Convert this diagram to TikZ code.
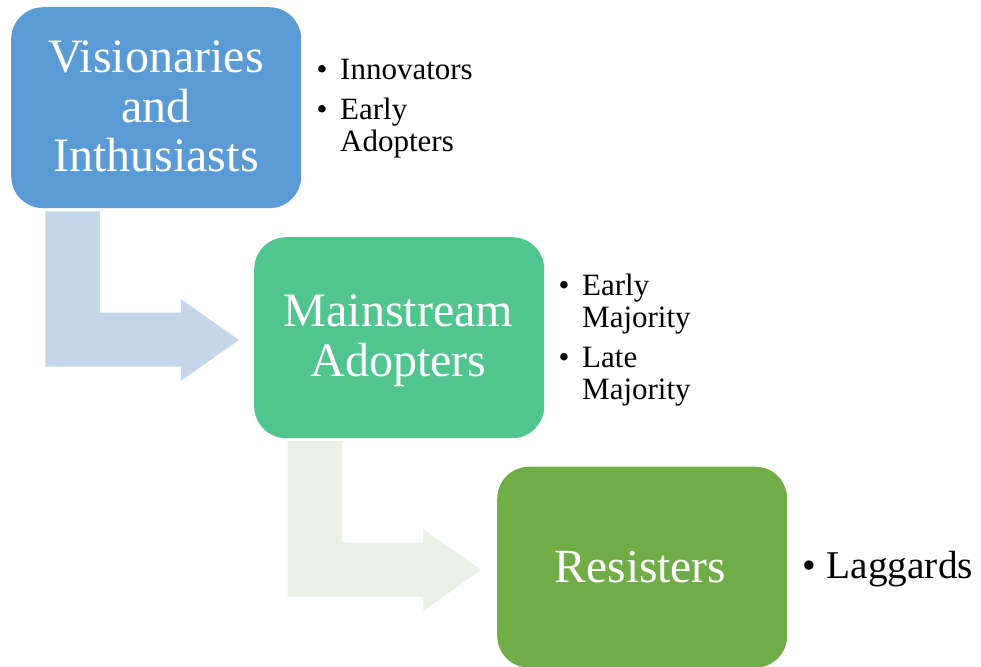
\documentclass[tikz,border=0pt]{standalone}
\usepackage{fontspec}
\setmainfont{Liberation Serif}
\definecolor{boxblue}{RGB}{91,155,213}
\definecolor{boxteal}{RGB}{80,197,142}
\definecolor{boxgreen}{RGB}{112,173,71}
\definecolor{arrowblue}{RGB}{197,213,234}
\definecolor{arrowgrey}{RGB}{234,239,232}
\tikzset{
  stagebox/.style={rounded corners=32pt, minimum width=290pt, minimum height=201pt, inner sep=0pt, anchor=north west},
  stagetext/.style={text=white, align=center, anchor=base, inner sep=0pt, font=\fontsize{48}{49.5}\selectfont},
  itemtext/.style={align=left, anchor=base west, inner sep=0pt, font=\fontsize{31}{32}\selectfont},
  bulletmark/.style={anchor=base, inner sep=0pt, font=\fontsize{31}{32}\selectfont}
}
\begin{document}
\begin{tikzpicture}[x=1pt,y=-1pt]
\useasboundingbox (0,0) rectangle (981,666);
% bent arrows
\fill[arrowblue] (45.3,211.3) -- (100,211.3) -- (100,312.7) -- (181,312.7) -- (181,299.3) -- (239,340) -- (181,380.7) -- (181,366.7) -- (45.3,366.7) -- cycle;
\fill[arrowgrey] (287.7,441) -- (342,441) -- (342,542.7) -- (423.3,542.7) -- (423.3,529.3) -- (481,570) -- (423.3,610.7) -- (423.3,596.7) -- (287.7,596.7) -- cycle;
% boxes
\node[stagebox, fill=boxblue] (b1) at (11,7) {};
\node[stagebox, fill=boxteal] (b2) at (254,237) {};
\node[stagebox, fill=boxgreen] (b3) at (497,466.5) {};
% box texts (anchor base = last line's baseline)
\node[stagetext] (t1) at (156,171.7) {Visionaries\\and\\Inthusiasts};
\node[stagetext, font=\fontsize{48}{50}\selectfont] (t2) at (398.5,376.7) {Mainstream\\Adopters};
\node[stagetext, font=\fontsize{47.5}{50}\selectfont] (t3) at (640.5,582) {Resisters};
% bullet lists
\node[bulletmark] (d11) at (322,80) {•};
\node[itemtext] (i11) at (340,80) {Innovators};
\node[bulletmark] (d12) at (322,119) {•};
\node[itemtext] (i12) at (340,151) {Early\\Adopters};
\node[bulletmark] (d21) at (564,295.5) {•};
\node[itemtext] (i21) at (582,327.5) {Early\\Majority};
\node[bulletmark] (d22) at (564,367) {•};
\node[itemtext] (i22) at (582,399) {Late\\Majority};
\node[bulletmark, font=\fontsize{39}{42}\selectfont] (d31) at (809,578) {•};
\node[itemtext, font=\fontsize{39.3}{42}\selectfont] (i31) at (826.5,578) {Laggards};
\end{tikzpicture}
\end{document}
